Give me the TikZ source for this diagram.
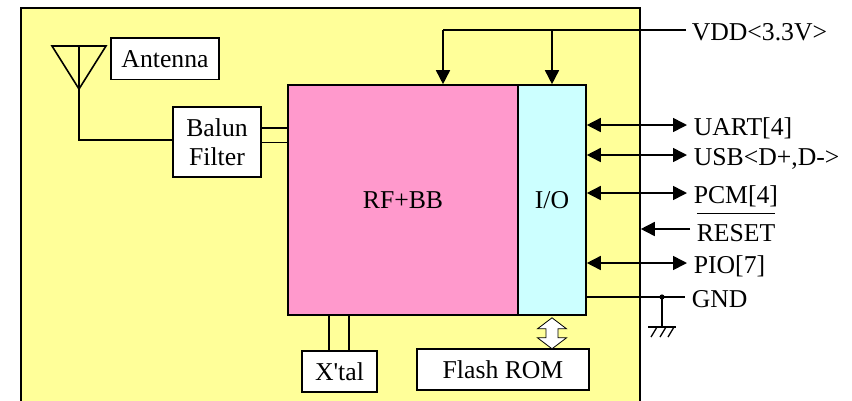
\documentclass[tikz,border=0pt]{standalone}
\usepackage{fontspec}
\setmainfont{Liberation Serif}
\usetikzlibrary{arrows.meta,calc}
\definecolor{boardyellow}{HTML}{FFFF99}
\definecolor{rfpink}{HTML}{FF99CC}
\definecolor{iocyan}{HTML}{CCFFFF}
\begin{document}
\begin{tikzpicture}[x=1pt,y=-1pt,
  font=\fontsize{25.7}{29}\selectfont,
  line width=1.6pt,
  box/.style={draw,fill=white,inner sep=0pt,text height=17pt,text depth=0pt},
  blk/.style={draw,inner sep=0pt,text height=17pt,text depth=0pt},
  lab/.style={anchor=west,inner xsep=6pt,inner ysep=0pt,text height=20pt,text depth=0pt},
  tip/.style={-{Triangle[length=14pt,width=14pt]}},
  dtip/.style={{Triangle[length=14pt,width=14pt]}-{Triangle[length=14pt,width=14pt]}},
]
\useasboundingbox (0,0) rectangle (852,400);
% board
\node[draw,fill=boardyellow,minimum width=619pt,minimum height=402pt,inner sep=0pt] (board) at (330.5,209) {};
% blocks
\node[box,minimum width=108pt,minimum height=41.6pt] (ant) at (165,58.5) {Antenna};
\node[draw,fill=white,minimum width=88pt,minimum height=70pt,align=center,inner sep=0pt] (balun) at (217,142) {Balun\\Filter};
\node[blk,fill=rfpink,minimum width=230pt,minimum height=230pt] (rf) at (403,200) {RF+BB};
\node[blk,fill=iocyan,minimum width=68pt,minimum height=230pt] (io) at (552,200) {I/O};
\node[box,minimum width=75pt,minimum height=41pt] (xtal) at (339.5,371.5) {X\textquotesingle tal};
\node[box,minimum width=172pt,minimum height=41pt] (flash) at (503,369.5) {Flash ROM};
% labels
\node[lab,inner xsep=5pt] (vdd) at (686,30) {VDD<3.3V>};
\node[lab] (uart) at (687,125) {UART[4]};
\node[lab] (usb) at (687,155) {USB<D+,D->};
\node[lab] (pcm) at (687,193) {PCM[4]};
\node[anchor=base west,inner xsep=6pt,inner ysep=0pt] (reset) at (690,241) {\vbox{\hrule height 1.3pt\kern 10pt\hbox{RESET}}};
\node[lab] (pio) at (687,263) {PIO[7]};
\node[lab] (gnd) at (685,297) {GND};
% antenna
\coordinate (antL) at (52,46);
\coordinate (antR) at (106,46);
\coordinate (antP) at (79,89);
\coordinate (antTop) at (79,46);
\coordinate (antFeed) at (79,140);
\draw[line join=miter] (antL) -- (antR) -- (antP) -- cycle;
\draw (antTop) -- (antFeed) -- (antFeed -| balun.west);
\draw (balun.east |- 0,127.7) -- (rf.west |- 0,127.7);
\draw (balun.east |- 0,142.3) -- (rf.west |- 0,142.3);
% VDD
\coordinate (vL) at (443,30);
\coordinate (vR) at (552,30);
\draw (vdd.west) -- (vL);
\draw[tip] (vL) -- (vL |- rf.north);
\draw[tip] (vR) -- (vR |- io.north);
% I/O signals
\draw[dtip] (io.east |- uart.west) -- (uart.west);
\draw[dtip] (io.east |- usb.west) -- (usb.west);
\draw[dtip] (io.east |- pcm.west) -- (pcm.west);
\coordinate (rs) at ([yshift=12pt]reset.base west);
\draw[tip] (rs) -- (rs -| board.east);
\draw[dtip] (io.east |- pio.west) -- (pio.west);
\draw (io.east |- gnd.west) -- (gnd.west);
% ground
\coordinate (gj) at (gnd.west -| 662,0);
\fill (gj) circle (2.6pt);
\coordinate (gb) at ($(gj)+(0,30)$);
\draw (gj) -- (gb);
\draw ($(gb)+(-14,0)$) -- ($(gb)+(14,0)$);
\foreach \dx in {-5,4,12} {
  \draw[line width=1.3pt] ($(gb)+(\dx,0)$) -- ($(gb)+(\dx-6,10)$);
}
% crystal
\draw (xtal.north -| 329,0) -- (rf.south -| 329,0);
\draw (xtal.north -| 349,0) -- (rf.south -| 349,0);
% flash link
\draw[fill=white,line width=0.8pt,line join=miter] ($(io.south)+(0,2)$) -- ++(14.5,11) -- ++(-8.5,0) -- ++(0,9) -- ++(8.5,0) -- ++(-14.5,11) -- ++(-14.5,-11) -- ++(8.5,0) -- ++(0,-9) -- ++(-8.5,0) -- cycle;
\end{tikzpicture}
\end{document}
